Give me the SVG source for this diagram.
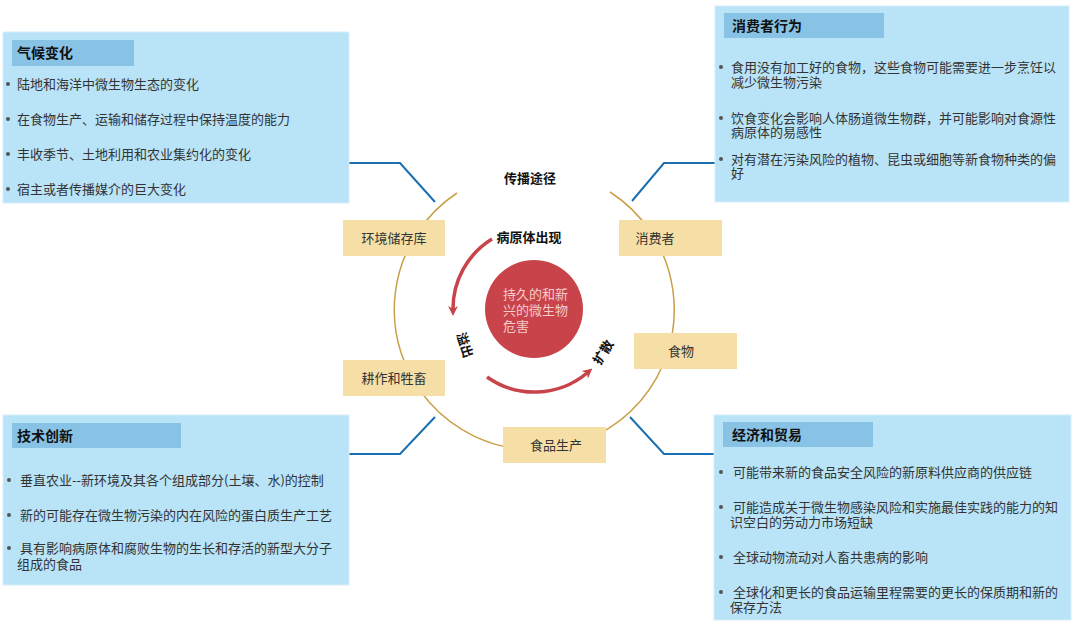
<svg xmlns="http://www.w3.org/2000/svg" width="1080" height="625" viewBox="0 0 1080 625">
<defs>
<style>
.panel{fill:#b9e3f7;stroke:#d6eefa;stroke-width:1}
.hdr{fill:#88c3e6}
.ht{font-family:"Noto Sans CJK SC",sans-serif;font-size:14px;font-weight:bold;fill:#111}
.bt{font-family:"Noto Sans CJK SC",sans-serif;font-size:13px;fill:#333}
.dot{fill:#555}
.ybox{fill:#f6dfa6}
.yt{font-family:"Noto Sans CJK SC",sans-serif;font-size:13px;fill:#333;text-anchor:middle}
.lbl{font-family:"Noto Sans CJK SC",sans-serif;font-size:13px;font-weight:bold;fill:#111;text-anchor:middle}
.conn{fill:none;stroke:#1b6fb0;stroke-width:2}
.ring{fill:none;stroke:#c9a04a;stroke-width:1.5}
.rarr{fill:none;stroke:#c8444a;stroke-width:3.5}
</style>
<marker id="ah" markerWidth="10" markerHeight="10" refX="3" refY="5" orient="auto" markerUnits="userSpaceOnUse" viewBox="0 0 10 10">
<path d="M0,0 L10,5 L0,10 L3,5 Z" fill="#c8444a"/>
</marker>
</defs>
<rect width="1080" height="625" fill="#ffffff"/>

<g id="connectors">
<path class="ring" d="M 610 192 A 140 140 0 1 1 457 193"/>
<path class="conn" d="M 349 163 L 400 163 L 435 202"/>
<path class="conn" d="M 715 163 L 664 163 L 632 201"/>
<path class="conn" d="M 349 454 L 400 454 L 435 417"/>
<path class="conn" d="M 714 454 L 664 454 L 630 417"/>
<path class="rarr" d="M 492 239 A 82 82 0 0 0 453 309" marker-end="url(#ah)"/>
<path class="rarr" d="M 487 377 A 82 82 0 0 0 587 373" marker-end="url(#ah)"/>
</g>

<g id="center">
<circle cx="534" cy="309" r="49" fill="#c8444a"/>
<text class="bt" style="fill:#f6caca"><tspan x="503" y="299">持久的和新</tspan><tspan x="503" y="315">兴的微生物</tspan><tspan x="503" y="331">危害</tspan></text>
</g>

<g id="labels">
<text class="lbl" x="530" y="183">传播途径</text>
<text class="lbl" x="529" y="242">病原体出现</text>
<text class="lbl" transform="translate(465,345) rotate(72)" y="5">溢出</text>
<text class="lbl" transform="translate(603,352) rotate(-58)" y="5">扩散</text>
</g>

<g id="node-env"><rect class="ybox" x="343" y="220" width="102" height="36"/><text class="yt" x="394" y="243">环境储存库</text></g>
<g id="node-consumer"><rect class="ybox" x="619" y="220" width="103" height="36"/><text class="yt" x="655" y="243">消费者</text></g>
<g id="node-food"><rect class="ybox" x="634" y="333" width="103" height="36"/><text class="yt" x="681" y="356">食物</text></g>
<g id="node-farm"><rect class="ybox" x="343" y="360" width="102" height="36"/><text class="yt" x="394" y="383">耕作和牲畜</text></g>
<g id="node-prod"><rect class="ybox" x="503" y="427" width="103" height="36"/><text class="yt" x="556" y="450">食品生产</text></g>

<g id="panel-climate">
<rect class="panel" x="3" y="32" width="346" height="171"/>
<rect class="hdr" x="12" y="40" width="122" height="26"/>
<text class="ht" x="17" y="58">气候变化</text>
<circle class="dot" cx="8" cy="84" r="2"/><text class="bt" x="17" y="89">陆地和海洋中微生物生态的变化</text>
<circle class="dot" cx="8" cy="119" r="2"/><text class="bt" x="17" y="124">在食物生产、运输和储存过程中保持温度的能力</text>
<circle class="dot" cx="8" cy="154" r="2"/><text class="bt" x="17" y="159">丰收季节、土地利用和农业集约化的变化</text>
<circle class="dot" cx="8" cy="189" r="2"/><text class="bt" x="17" y="194">宿主或者传播媒介的巨大变化</text>
</g>

<g id="panel-consumer">
<rect class="panel" x="715" y="6" width="354" height="196"/>
<rect class="hdr" x="724" y="13" width="160" height="25"/>
<text class="ht" x="732" y="31">消费者行为</text>
<circle class="dot" cx="721" cy="67" r="2"/><text class="bt"><tspan x="731" y="72">食用没有加工好的食物，这些食物可能需要进一步烹饪以</tspan><tspan x="731" y="87">减少微生物污染</tspan></text>
<circle class="dot" cx="721" cy="118" r="2"/><text class="bt"><tspan x="731" y="123">饮食变化会影响人体肠道微生物群，并可能影响对食源性</tspan><tspan x="731" y="137">病原体的易感性</tspan></text>
<circle class="dot" cx="721" cy="159" r="2"/><text class="bt"><tspan x="731" y="164">对有潜在污染风险的植物、昆虫或细胞等新食物种类的偏</tspan><tspan x="731" y="178">好</tspan></text>
</g>

<g id="panel-tech">
<rect class="panel" x="3" y="415" width="346" height="170"/>
<rect class="hdr" x="12" y="423" width="169" height="25"/>
<text class="ht" x="17" y="441">技术创新</text>
<circle class="dot" cx="9" cy="480" r="2"/><text class="bt" x="20" y="485">垂直农业--新环境及其各个组成部分(土壤、水)的控制</text>
<circle class="dot" cx="9" cy="515" r="2"/><text class="bt" x="20" y="520">新的可能存在微生物污染的内在风险的蛋白质生产工艺</text>
<circle class="dot" cx="9" cy="548" r="2"/><text class="bt"><tspan x="20" y="553">具有影响病原体和腐败生物的生长和存活的新型大分子</tspan><tspan x="17" y="569">组成的食品</tspan></text>
</g>

<g id="panel-trade">
<rect class="panel" x="714" y="415" width="357" height="205"/>
<rect class="hdr" x="723" y="422" width="150" height="25"/>
<text class="ht" x="732" y="440">经济和贸易</text>
<circle class="dot" cx="721" cy="472" r="2"/><text class="bt" x="733" y="477">可能带来新的食品安全风险的新原料供应商的供应链</text>
<circle class="dot" cx="721" cy="507" r="2"/><text class="bt"><tspan x="733" y="512">可能造成关于微生物感染风险和实施最佳实践的能力的知</tspan><tspan x="730" y="527">识空白的劳动力市场短缺</tspan></text>
<circle class="dot" cx="721" cy="557" r="2"/><text class="bt" x="733" y="562">全球动物流动对人畜共患病的影响</text>
<circle class="dot" cx="721" cy="592" r="2"/><text class="bt"><tspan x="733" y="597">全球化和更长的食品运输里程需要的更长的保质期和新的</tspan><tspan x="730" y="612">保存方法</tspan></text>
</g>
</svg>
